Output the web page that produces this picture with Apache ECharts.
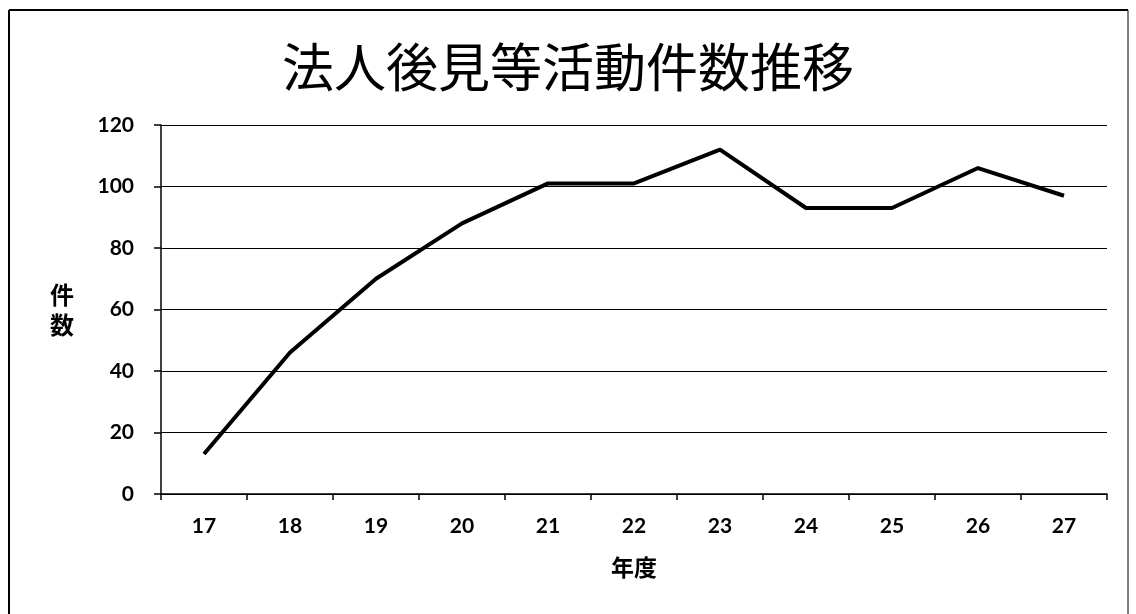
<!DOCTYPE html>
<html>
<head>
<meta charset="utf-8">
<script src="https://cdn.jsdelivr.net/npm/echarts@6/dist/echarts.min.js"></script>
<style>
html,body{margin:0;padding:0;background:#fff;}
#c{width:1136px;height:614px;}
</style>
</head>
<body>
<div id="c"></div>
<script>
const titleText = '法人後見等活動件数推移';
const xName = '年度';
const yName = '件\n数';
const years = ['17','18','19','20','21','22','23','24','25','26','27'];
const counts = [13, 46, 70, 88, 101, 101, 112, 93, 93, 106, 97];
const yMin = 0, yMax = 120, yStep = 20;

const chart = echarts.init(document.getElementById('c'));
chart.setOption({
  backgroundColor: '#fff',
  animation: false,
  title: {
    text: titleText,
    left: 'center',
    top: 36,
    textStyle: {
      fontFamily: 'Noto Sans CJK JP',
      fontSize: 52,
      fontWeight: 'normal',
      color: '#000'
    }
  },
  graphic: [
    { type: 'line', shape: { x1: 9, y1: 10, x2: 1128, y2: 10 }, style: { stroke: '#000', lineWidth: 2 } },
    { type: 'line', shape: { x1: 9, y1: 10, x2: 9, y2: 614 }, style: { stroke: '#000', lineWidth: 2 } },
    { type: 'line', shape: { x1: 1128, y1: 10, x2: 1128, y2: 614 }, style: { stroke: '#000', lineWidth: 1 } },
    {
      type: 'text', left: 50, top: 280,
      style: { text: yName, fontFamily: 'Noto Sans CJK JP', fontSize: 24, fontWeight: 'bold', fill: '#000', lineHeight: 30 }
    }
  ],
  grid: { left: 161, right: 29, top: 125, bottom: 120, containLabel: false },
  xAxis: {
    type: 'category',
    data: years,
    boundaryGap: true,
    name: xName,
    nameLocation: 'middle',
    nameGap: 62,
    nameTextStyle: { fontFamily: 'Noto Sans CJK JP', fontSize: 23, fontWeight: 'bold', color: '#000' },
    axisLine: { lineStyle: { color: '#000', width: 1.5 } },
    axisTick: { show: true, alignWithLabel: false, length: 6, lineStyle: { color: '#000', width: 1.5 } },
    axisLabel: { margin: 22, fontFamily: 'Lato', fontSize: 21, fontWeight: 'bold', color: '#000' }
  },
  yAxis: {
    type: 'value',
    min: yMin, max: yMax, interval: yStep,
    axisLine: { show: true, lineStyle: { color: '#000', width: 1.5 } },
    axisTick: { show: true, length: 7, lineStyle: { color: '#000', width: 1.5 } },
    axisLabel: { margin: 27, fontFamily: 'Lato', fontSize: 21, fontWeight: 'bold', color: '#000' },
    splitLine: { show: true, lineStyle: { color: '#000', width: 1 } }
  },
  series: [{
    type: 'line',
    data: counts,
    symbol: 'none',
    lineStyle: { color: '#000', width: 4 },
    itemStyle: { color: '#000' }
  }]
});
</script>
</body>
</html>
